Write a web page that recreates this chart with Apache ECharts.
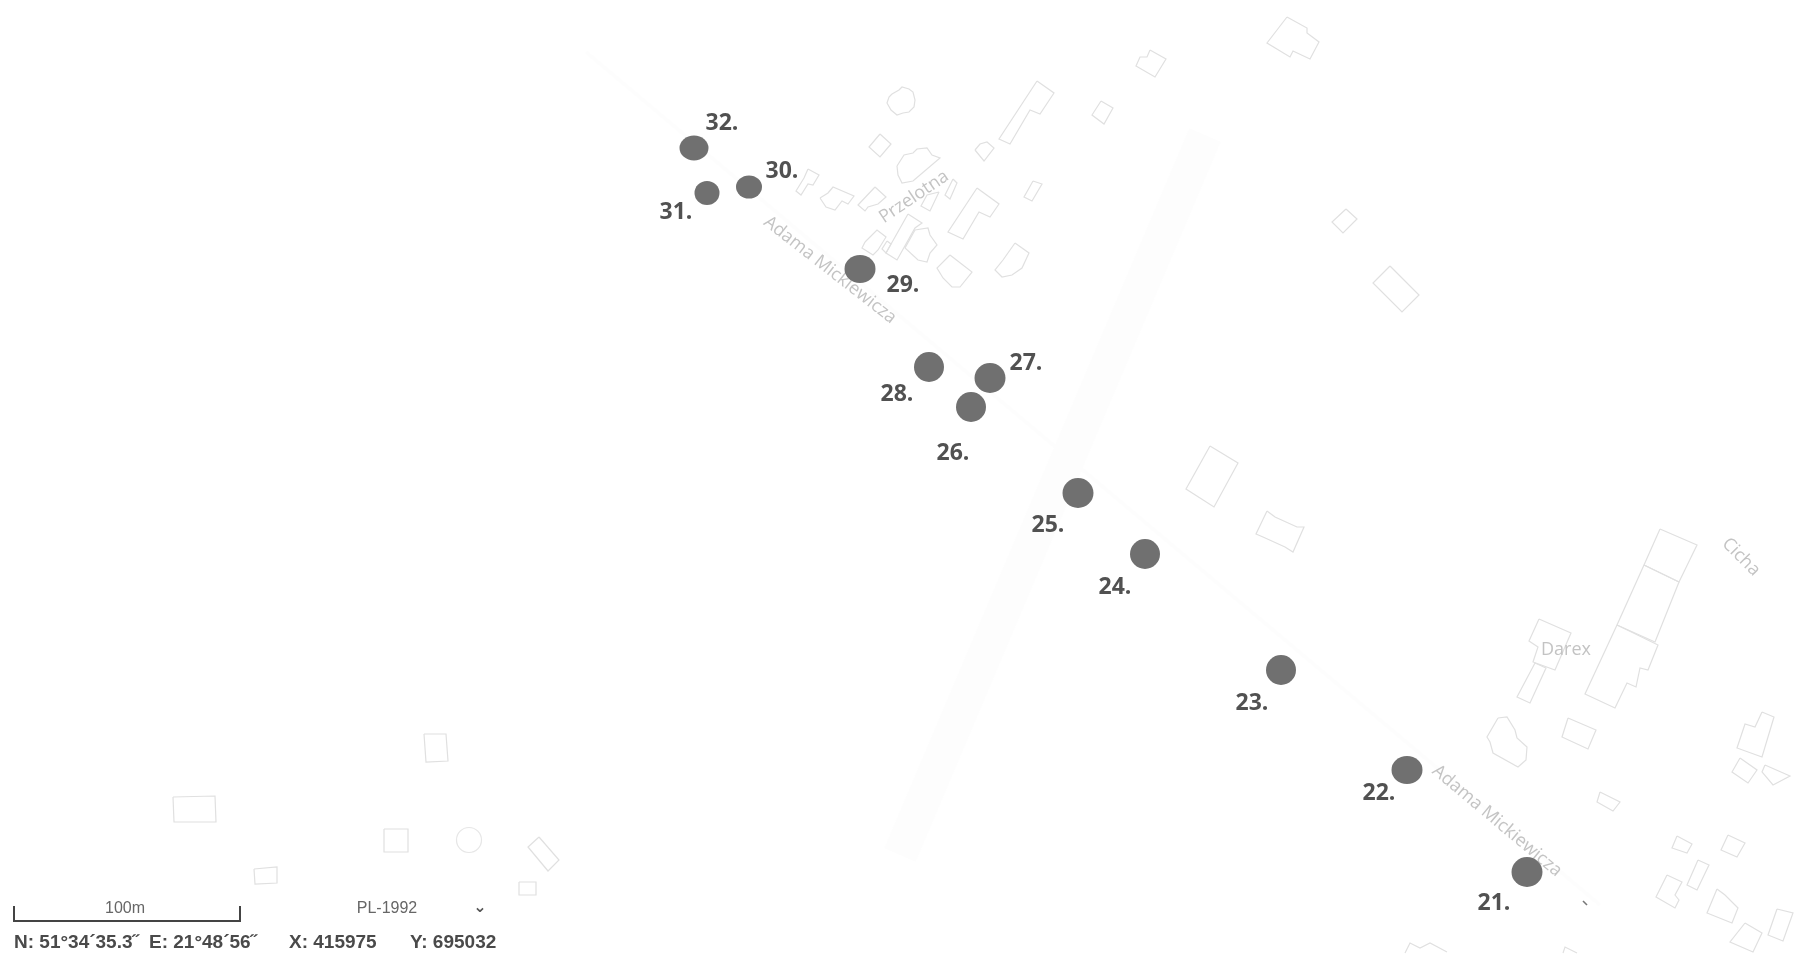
<!DOCTYPE html>
<html><head><meta charset="utf-8">
<style>html,body{margin:0;padding:0;background:#fff}#c{width:1809px;height:967px}</style>
<script src="https://cdn.jsdelivr.net/npm/echarts@6/dist/echarts.min.js"></script></head>
<body><div id="c"></div>
<script>
const pointIds = ['21.','22.','23.','24.','25.','26.','27.','28.','29.','30.','31.','32.'];
const pointX = [1527,1407,1281,1145,1078,971,990,929,860,749,707,694];
const pointY = [872,770,670,554,493,407,378,367,269,187,193,148];
const pointW = [31,31,30,30,31,30,31,30,31,26,25,29];
const pointH = [30,28,30,30,30,30,30,30,28,23,24,25];
const idLabelX = [1494,1379,1252,1115,1048,953,1026,897,903,782,676,722];
const idLabelY = [903,793,703,587,525,453,363,394,285,171,212,123];

const mapNames = ['Adama Mickiewicza','Adama Mickiewicza','Przelotna','Darex','Cicha'];
const mapNameX = [830,1497,914,1566,1741];
const mapNameY = [270,821,197,650,557];
const mapNameAngle = [-38,-40,34,0,-45];

const buildings = [
 [[892,94],[899,90],[902,87],[909,89],[913,92],[915,100],[914,107],[909,112],[903,113],[897,115],[891,110],[887,103],[889,97],[892,94]],
 [[880,134],[891,144],[880,157],[869,147],[880,134]],
 [[897,166],[904,155],[913,153],[917,149],[927,148],[932,155],[940,158],[913,181],[902,183],[898,175],[897,166]],
 [[1037,81],[1054,93],[1040,114],[1030,110],[1010,144],[999,139],[1037,81]],
 [[975,150],[980,144],[987,142],[994,148],[984,161],[975,150]],
 [[1033,181],[1042,184],[1032,201],[1024,197],[1033,181]],
 [[808,169],[819,175],[813,185],[808,184],[801,195],[796,191],[804,178],[808,169]],
 [[820,198],[828,193],[833,187],[854,196],[848,204],[842,201],[835,210],[826,207],[820,198]],
 [[875,187],[886,197],[878,204],[868,207],[865,211],[858,205],[875,187]],
 [[939,192],[930,211],[921,206],[927,195],[939,192]],
 [[953,179],[957,183],[950,199],[945,195],[953,179]],
 [[977,188],[999,204],[990,217],[979,212],[963,239],[948,232],[977,188]],
 [[908,214],[922,223],[915,228],[897,260],[886,253],[908,214]],
 [[915,230],[928,228],[930,235],[937,245],[930,253],[927,262],[918,260],[905,248],[915,230]],
 [[865,242],[877,230],[886,237],[878,250],[873,255],[862,248],[865,242]],
 [[887,241],[891,244],[886,253],[882,249],[887,241]],
 [[950,255],[972,272],[960,287],[952,287],[943,278],[937,268],[950,255]],
 [[1015,243],[1029,253],[1022,268],[1012,275],[1002,277],[995,270],[1003,260],[1015,243]],
 [[1101,101],[1113,108],[1104,124],[1092,115],[1101,101]],
 [[1150,50],[1166,59],[1155,77],[1136,66],[1140,57],[1147,57],[1150,50]],
 [[1287,17],[1307,28],[1307,33],[1319,42],[1310,59],[1293,51],[1290,57],[1267,43],[1287,17]],
 [[1346,209],[1357,219],[1343,233],[1332,222],[1346,209]],
 [[1390,266],[1419,295],[1402,312],[1373,283],[1390,266]],
 [[1210,446],[1238,463],[1214,507],[1186,489],[1210,446]],
 [[1267,511],[1275,517],[1297,527],[1304,527],[1293,552],[1285,547],[1263,537],[1256,534],[1267,511]],
 [[424,734],[446,734],[448,761],[426,762],[424,734]],
 [[173,797],[215,796],[216,822],[174,822],[173,797]],
 [[384,829],[408,829],[408,852],[384,852],[384,829]],
 [[539,837],[559,860],[548,871],[528,847],[539,837]],
 [[254,869],[277,867],[277,883],[255,884],[254,869]],
 [[519,882],[536,882],[536,895],[519,895],[519,882]],
 [[1660,529],[1697,545],[1679,582],[1644,565],[1660,529]],
 [[1644,565],[1679,582],[1655,642],[1617,625],[1644,565]],
 [[1617,625],[1658,645],[1648,670],[1640,668],[1636,687],[1627,683],[1615,708],[1585,694],[1617,625]],
 [[1539,619],[1571,633],[1555,670],[1533,662],[1538,647],[1529,641],[1539,619]],
 [[1535,663],[1546,668],[1530,703],[1517,697],[1535,663]],
 [[1498,718],[1507,717],[1515,730],[1517,738],[1527,747],[1526,760],[1518,767],[1493,753],[1490,742],[1487,737],[1498,718]],
 [[1568,718],[1596,730],[1588,749],[1562,737],[1568,718]],
 [[1600,792],[1620,802],[1613,811],[1597,802],[1600,792]],
 [[1762,712],[1774,717],[1762,757],[1737,748],[1745,724],[1755,727],[1762,712]],
 [[1740,758],[1757,770],[1748,783],[1732,772],[1740,758]],
 [[1765,765],[1790,776],[1773,785],[1762,772],[1765,765]],
 [[1677,836],[1692,844],[1687,853],[1672,848],[1677,836]],
 [[1728,835],[1745,843],[1737,857],[1721,850],[1728,835]],
 [[1698,860],[1709,865],[1697,890],[1687,885],[1698,860]],
 [[1667,875],[1682,882],[1675,895],[1679,900],[1675,908],[1656,897],[1667,875]],
 [[1717,889],[1725,895],[1738,908],[1732,923],[1707,913],[1717,889]],
 [[1745,923],[1762,933],[1753,952],[1730,942],[1745,923]],
 [[1777,909],[1793,913],[1783,941],[1768,935],[1777,909]],
 [[1405,953],[1410,943],[1420,948],[1430,943],[1447,952]],
 [[1563,953],[1565,947],[1577,953]]
];
const roundBuildings = [[469,840,25]];
const fadedBands = [
 {path:[[1205,135],[900,855]], width:34, color:'#fdfdfd'},
 {path:[[586,52],[1600,905]], width:3, color:'#fdfdfd'}
];
const speck = [[1583,901],[1587,905]];

const scaleText = '100m', crsText = 'PL-1992', chevronText = '⌄';
const coordTexts = ['N: 51°34´35.3˝','E: 21°48´56˝','X: 415975','Y: 695032'];

const sans = 'Liberation Sans, Arial, sans-serif';
const chart = echarts.init(document.getElementById('c'), null, {renderer:'canvas'});
chart.setOption({
 animation:false, backgroundColor:'#ffffff',
 grid:{left:0,right:0,top:0,bottom:0},
 xAxis:{type:'value',min:0,max:1809,show:false},
 yAxis:{type:'value',min:0,max:967,inverse:true,show:false},
 tooltip:{show:false},
 series:[
  {type:'lines',coordinateSystem:'cartesian2d',polyline:true,silent:true,
   data:fadedBands.map(b=>({coords:b.path,lineStyle:{width:b.width,color:b.color,opacity:1}}))},
  {type:'lines',coordinateSystem:'cartesian2d',polyline:true,silent:true,
   lineStyle:{color:'#e0e0e0',width:1.2,opacity:1},
   data:buildings.map(p=>({coords:p}))},
  {type:'lines',coordinateSystem:'cartesian2d',polyline:true,silent:true,
   lineStyle:{color:'#777777',width:1.6,opacity:1},data:[{coords:speck}]},
  {type:'scatter',silent:true,symbol:'circle',
   itemStyle:{color:'transparent',borderColor:'#e0e0e0',borderWidth:1.2},
   data:roundBuildings.map(r=>({value:[r[0],r[1]],symbolSize:r[2]}))},
  {type:'scatter',silent:true,symbolSize:0,
   label:{show:true,position:'inside',color:'#b4b4b4',fontFamily:'Open Sans',fontSize:18},
   data:mapNames.map((n,i)=>({value:[mapNameX[i],mapNameY[i]],name:n,
     label:{formatter:n,rotate:mapNameAngle[i]}}))},
  {type:'scatter',silent:true,symbol:'circle',z:5,
   itemStyle:{color:'#707070',opacity:1},
   data:pointIds.map((n,i)=>({value:[pointX[i],pointY[i]],symbolSize:[pointW[i],pointH[i]]}))},
  {type:'scatter',silent:true,symbolSize:0,z:6,
   label:{show:true,position:'inside',color:'#262626',fontFamily:'Open Sans',fontWeight:'bold',fontSize:23},
   data:pointIds.map((n,i)=>({value:[idLabelX[i],idLabelY[i]],label:{formatter:n}}))}
 ],
 graphic:[
  {type:'polyline',silent:true,shape:{points:[[14,906],[14,921],[240,921],[240,906]]},style:{stroke:'#444',lineWidth:2,fill:null}},
  {type:'text',silent:true,x:125,y:909,style:{text:scaleText,font:'16px '+sans,fill:'#666',textAlign:'center',textVerticalAlign:'middle'}},
  {type:'text',silent:true,x:387,y:909,style:{text:crsText,font:'16px '+sans,fill:'#666',textAlign:'center',textVerticalAlign:'middle'}},
  {type:'text',silent:true,x:480,y:908,style:{text:chevronText,font:'bold 16px DejaVu Sans',fill:'#555',textAlign:'center',textVerticalAlign:'middle'}},
  {type:'text',silent:true,x:14,y:943,style:{text:coordTexts[0],font:'bold 19px '+sans,fill:'#4a4a4a',textVerticalAlign:'middle'}},
  {type:'text',silent:true,x:149,y:943,style:{text:coordTexts[1],font:'bold 19px '+sans,fill:'#4a4a4a',textVerticalAlign:'middle'}},
  {type:'text',silent:true,x:289,y:943,style:{text:coordTexts[2],font:'bold 19px '+sans,fill:'#4a4a4a',textVerticalAlign:'middle'}},
  {type:'text',silent:true,x:410,y:943,style:{text:coordTexts[3],font:'bold 19px '+sans,fill:'#4a4a4a',textVerticalAlign:'middle'}}
 ]
});
</script></body></html>
